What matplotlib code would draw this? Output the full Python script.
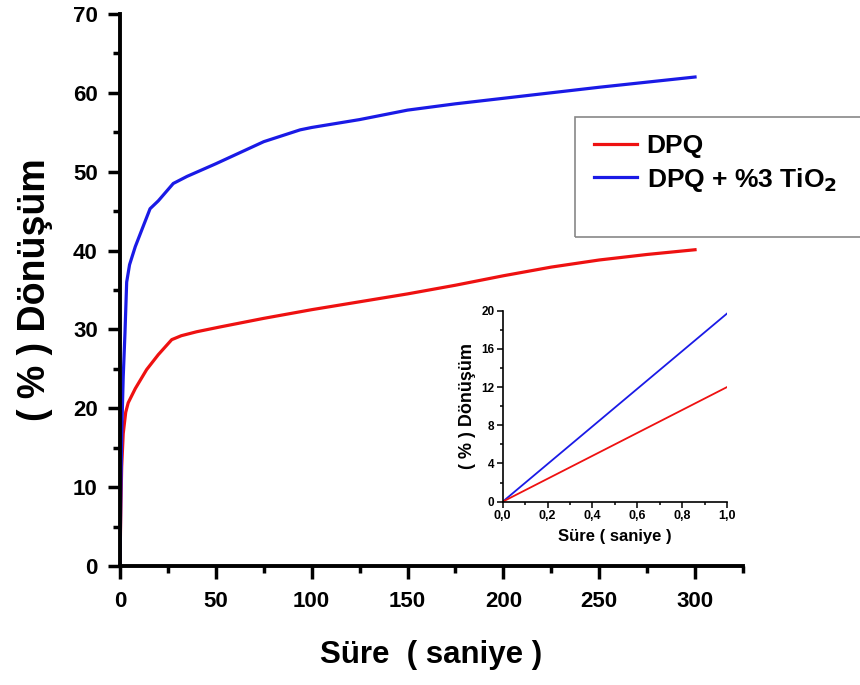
import matplotlib
matplotlib.use("Agg")
import matplotlib.pyplot as plt
from matplotlib.patches import Rectangle
from matplotlib.ticker import MultipleLocator

plt.rcParams['font.family'] = ['Liberation Sans', 'DejaVu Sans']
plt.rcParams['font.weight'] = 'bold'

# Main chart data (time in seconds, conversion %)
t_dpq = [0, 0.5, 0.9, 1.7, 3, 4.3, 8, 13.9, 20, 27, 32, 40, 52, 75, 100, 125, 150, 175, 200, 225, 250, 275, 300]
y_dpq = [0, 8, 12.6, 16.8, 19.5, 20.7, 22.5, 24.9, 26.8, 28.7, 29.2, 29.7, 30.3, 31.4, 32.5, 33.5, 34.5, 35.6, 36.8, 37.9, 38.8, 39.5, 40.1]

t_tio2 = [0, 0.5, 0.9, 1.7, 2.6, 3.5, 5, 8, 12, 15.7, 20, 27.8, 35, 50, 75, 94, 100, 125, 150, 175, 200, 250, 300]
y_tio2 = [0, 10, 16.8, 24, 29.5, 36, 38.2, 40.5, 43, 45.3, 46.3, 48.5, 49.4, 51.0, 53.8, 55.3, 55.6, 56.6, 57.8, 58.6, 59.3, 60.7, 62.0]

# Inset data (first second)
t_inset = [0.0, 1.0]
y_inset_dpq = [0.0, 12.0]
y_inset_tio2 = [0.0, 19.7]
inset_xticks = [0, 0.2, 0.4, 0.6, 0.8, 1.0]
inset_xticklabels = ['0,0', '0,2', '0,4', '0,6', '0,8', '1,0']

labels = ['DPQ', 'DPQ + %3 TiO$_\\mathbf{2}$']
red = '#ee1111'
blue = '#1a1ae6'

fig = plt.figure(figsize=(8.6, 6.85), dpi=100)
ax = fig.add_axes([0.1395, 0.1737, 0.7244, 0.806])
l1, = ax.plot(t_dpq, y_dpq, color=red, lw=2.3)
l2, = ax.plot(t_tio2, y_tio2, color=blue, lw=2.3)
ax.set_xlim(0, 325)
ax.set_ylim(0, 70)
for s in ['top', 'right']:
    ax.spines[s].set_visible(False)
for s in ['left', 'bottom']:
    ax.spines[s].set_linewidth(2.8)
ax.xaxis.set_major_locator(MultipleLocator(50))
ax.xaxis.set_minor_locator(MultipleLocator(25))
ax.yaxis.set_major_locator(MultipleLocator(10))
ax.yaxis.set_minor_locator(MultipleLocator(5))
ax.tick_params(which='major', direction='out', length=9, width=2.5, labelsize=16, pad=7)
ax.tick_params(axis='x', which='major', pad=9)
ax.tick_params(which='minor', direction='out', length=5, width=2.5)
for lab in ax.get_xticklabels() + ax.get_yticklabels():
    lab.set_fontweight('bold')
ax.set_xlabel('Süre  ( saniye )', fontsize=22.5, fontweight='bold', labelpad=20)
ax.set_ylabel('( % ) Dönüşüm', fontsize=27, fontweight='bold', labelpad=14)

# Legend box extending past right edge
fig.patches.append(Rectangle((575/860, 1 - 237/685), 0.4, 120/685, transform=fig.transFigure,
                             fill=False, edgecolor='#888888', lw=1.2, zorder=5))
fig.legend([l1, l2], labels, loc='upper left', bbox_to_anchor=(570/860, 1 - 110/685),
           frameon=False, handlelength=1.65, handletextpad=0.35,
           labelspacing=0.3, prop={'weight': 'bold', 'size': 19})

# Inset
ax2 = fig.add_axes([0.5845, 0.2676, 0.2608, 0.2788])
ax2.plot(t_inset, y_inset_tio2, color=blue, lw=1.3)
ax2.plot(t_inset, y_inset_dpq, color=red, lw=1.3)
ax2.set_xlim(0, 1.0)
ax2.set_ylim(0, 20)
for s in ['top', 'right']:
    ax2.spines[s].set_visible(False)
for s in ['left', 'bottom']:
    ax2.spines[s].set_linewidth(1.2)
ax2.xaxis.set_minor_locator(MultipleLocator(0.1))
ax2.yaxis.set_major_locator(MultipleLocator(4))
ax2.yaxis.set_minor_locator(MultipleLocator(2))
ax2.set_xticks(inset_xticks)
ax2.set_xticklabels(inset_xticklabels)
ax2.tick_params(which='major', direction='out', length=4, width=1.1, labelsize=9, pad=2)
ax2.tick_params(axis='y', which='major', labelsize=8.5)
ax2.tick_params(which='minor', direction='out', length=2.5, width=1.1)
for lab in ax2.get_xticklabels() + ax2.get_yticklabels():
    lab.set_fontweight('bold')
ax2.set_xlabel('Süre ( saniye )', fontsize=12, fontweight='bold', labelpad=5)
ax2.set_ylabel('( % ) Dönüşüm', fontsize=13, fontweight='bold', labelpad=4)

fig.savefig('out.png', dpi=100)
